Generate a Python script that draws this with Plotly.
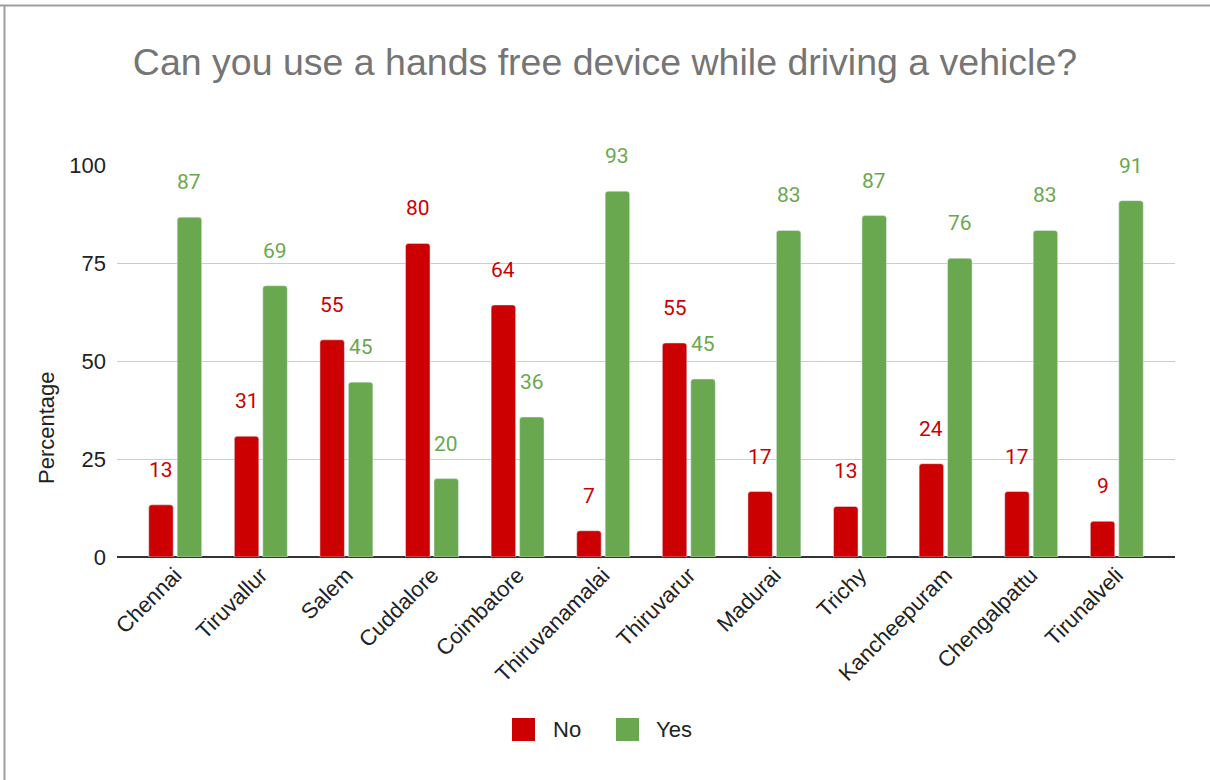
import math
import plotly.graph_objects as go

# Survey responses by district (percent of respondents)
districts = ["Chennai", "Tiruvallur", "Salem", "Cuddalore", "Coimbatore",
             "Thiruvanamalai", "Thiruvarur", "Madurai", "Trichy",
             "Kancheepuram", "Chengalpattu", "Tirunalveli"]
no_pct = [13.3, 30.8, 55.4, 80.0, 64.3, 6.7, 54.6, 16.7, 12.9, 23.8, 16.7, 9.1]
yes_pct = [86.7, 69.2, 44.6, 20.0, 35.7, 93.3, 45.4, 83.3, 87.1, 76.2, 83.3, 90.9]
y_ticks = [0, 25, 50, 75, 100]
series_names = ["No", "Yes"]

RED = "#cc0000"
GREEN = "#6aa84f"
TEXT = "#222222"

W, H = 1210, 780
ML, MR, MT, MB = 117, 35, 165, 223
PW, PH = W - ML - MR, H - MT - MB
X_PAD = 0.68
BARGAP = 0.335
BARGROUPGAP = 0.14
px_per_cat = PW / (len(districts) - 1 + 2 * X_PAD)
bar_offset = (1 - BARGAP) / 4 * px_per_cat


def px_x(px):
    return (px - ML) / PW


def px_y(py):
    return (H - MB - py) / PH


def label(v):
    return str(int(math.floor(v + 0.5)))


fig = go.Figure()
fig.add_bar(name=series_names[0], x=districts, y=no_pct, marker_color=RED,
            marker_cornerradius=3, showlegend=False)
fig.add_bar(name=series_names[1], x=districts, y=yes_pct, marker_color=GREEN,
            marker_cornerradius=3, showlegend=False)

# value labels floating above each bar
annotations = []
for series, color, sign in ((no_pct, RED, -1), (yes_pct, GREEN, 1)):
    for d, v in zip(districts, series):
        annotations.append(dict(
            x=d, y=v, xref="x", yref="y", text=label(v), showarrow=False,
            xshift=sign * bar_offset, yshift=35,
            font=dict(family="Roboto, Arial, sans-serif", size=21, color=color),
        ))

# vertical axis caption
annotations.append(dict(
    x=px_x(46), y=px_y(428), xref="paper", yref="paper", text="Percentage",
    textangle=-90, showarrow=False, xanchor="center", yanchor="middle",
    font=dict(size=22, color=TEXT),
))

# outer frame lines (top and left)
frame = dict(type="line", xref="paper", yref="paper",
             line=dict(color="#9e9e9e", width=2))
shapes = [
    dict(frame, x0=px_x(0), x1=px_x(W), y0=px_y(5.5), y1=px_y(5.5)),
    dict(frame, x0=px_x(4.5), x1=px_x(4.5), y0=px_y(5), y1=px_y(H)),
]

# legend: swatch + name for each series
legend_items = [(series_names[0], RED, 512, 551), (series_names[1], GREEN, 616, 654)]
for name, color, sx, tx in legend_items:
    shapes.append(dict(type="rect", xref="paper", yref="paper",
                       x0=px_x(sx), x1=px_x(sx + 23), y0=px_y(741), y1=px_y(718),
                       fillcolor=color, line=dict(width=0)))
    annotations.append(dict(x=px_x(tx), y=px_y(729.5), xref="paper", yref="paper",
                            text=name, showarrow=False, xanchor="left",
                            yanchor="middle", font=dict(size=22, color=TEXT)))

fig.update_layout(
    width=W, height=H,
    margin=dict(l=ML, r=MR, t=MT, b=MB, pad=0),
    paper_bgcolor="white", plot_bgcolor="white",
    barmode="group", bargap=BARGAP, bargroupgap=BARGROUPGAP,
    showlegend=False,
    font=dict(family="Liberation Sans, Arial, sans-serif", size=22, color=TEXT),
    title=dict(text="Can you use a hands free device while driving a vehicle?",
               x=0.5, xref="container", xanchor="center",
               y=1 - 62 / H, yref="container", yanchor="middle",
               font=dict(size=37.5, color="#757575")),
    xaxis=dict(type="category", range=[-X_PAD, len(districts) - 1 + X_PAD],
               tickangle=-45, showgrid=False, ticks="", showline=False,
               tickfont=dict(size=22, color=TEXT)),
    yaxis=dict(range=[0, 100], tickvals=y_ticks, showgrid=True,
               gridcolor="#cccccc", gridwidth=1, zeroline=True,
               zerolinecolor="#333333", zerolinewidth=1.5, ticks="",
               ticklabelstandoff=10,
               tickfont=dict(size=22, color=TEXT)),
    annotations=annotations,
    shapes=shapes,
)

fig.write_html("out.html")
